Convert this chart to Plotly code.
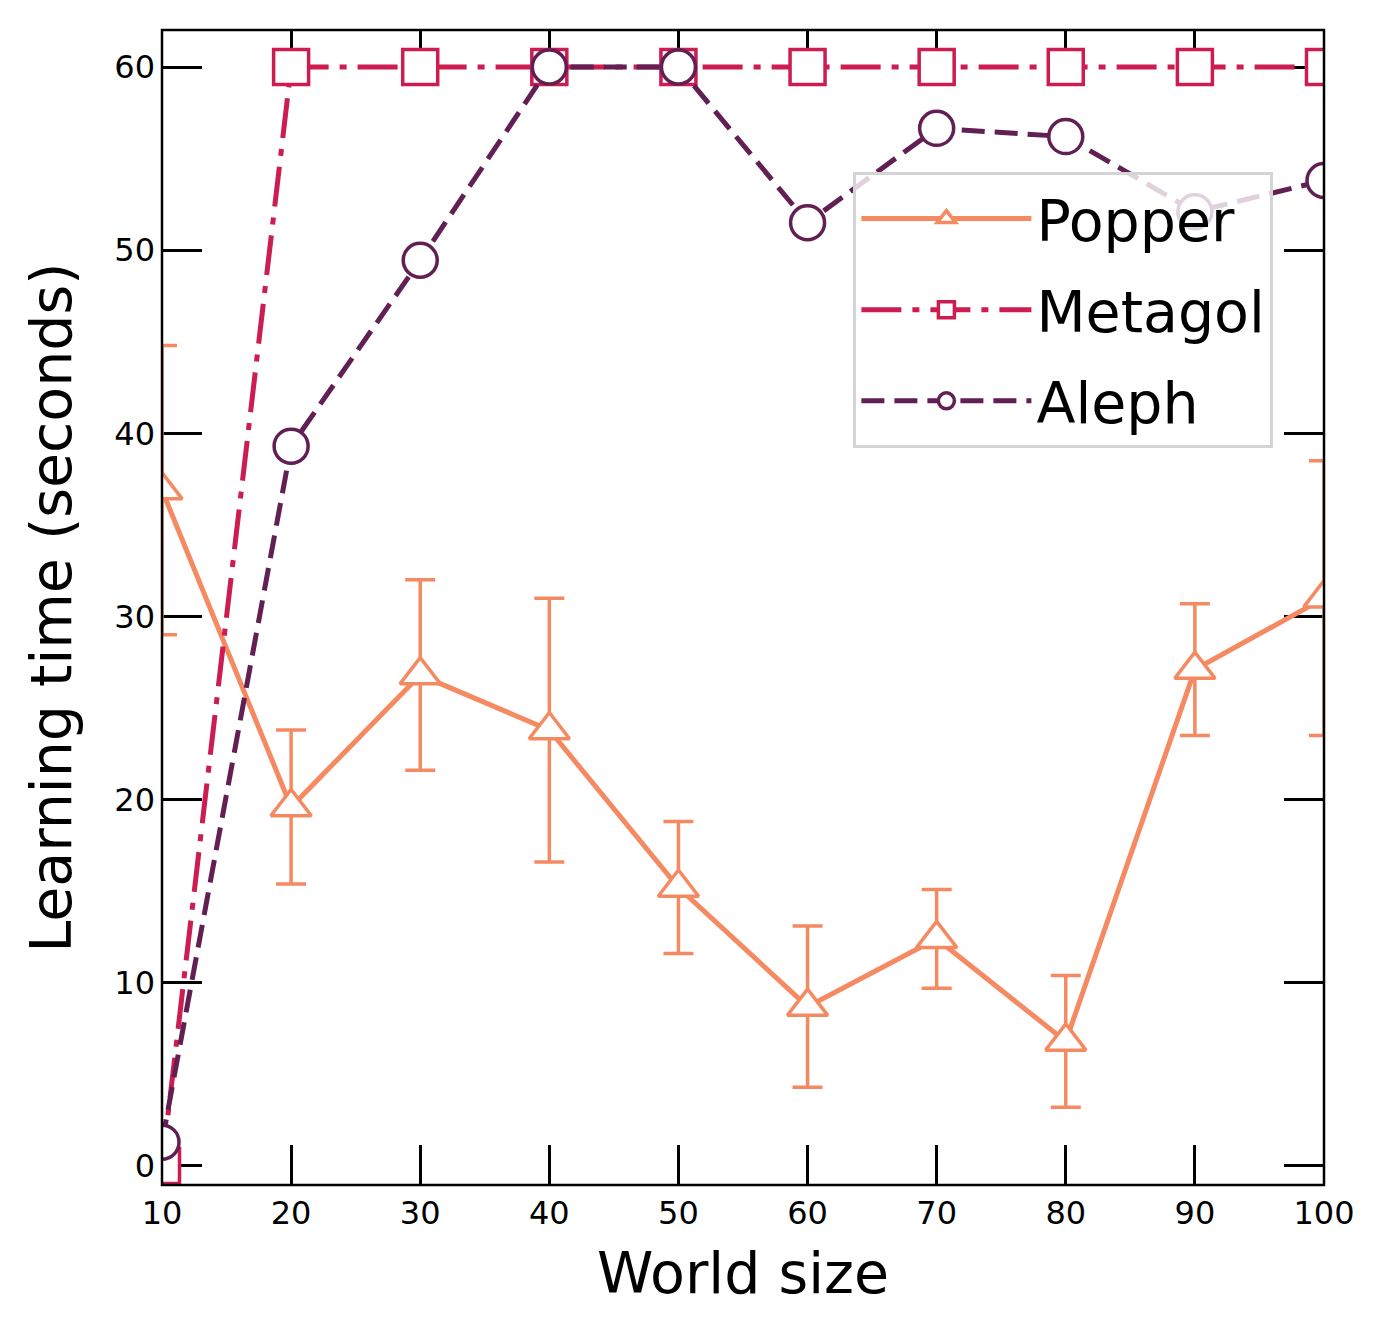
import plotly.graph_objects as go

# world sizes on the x axis
world_size = [10, 20, 30, 40, 50, 60, 70, 80, 90, 100]

# learning times (seconds), with error bar half-heights
popper_time = [36.9, 19.6, 26.8, 23.8, 15.2, 8.7, 12.4, 6.8, 27.1, 31.0]
popper_err = [7.9, 4.2, 5.2, 7.2, 3.6, 4.4, 2.7, 3.6, 3.6, 7.5]
metagol_time = [0.0, 60, 60, 60, 60, 60, 60, 60, 60, 60]
metagol_err = [0, 0, 0, 0, 0, 0, 0, 0, 0, 0]
aleph_time = [1.3, 39.3, 49.45, 60, 60, 51.5, 56.65, 56.2, 52.1, 53.8]
aleph_err = [0, 0, 0, 0, 0, 0, 0, 0, 0, 0]

x_ticks = [10, 20, 30, 40, 50, 60, 70, 80, 90, 100]
y_ticks = [0, 10, 20, 30, 40, 50, 60]

POPPER = "#f58a62"
METAGOL = "#cc1c50"
ALEPH = "#611f53"

fig = go.Figure()


def add_series(name, y, err, color, dash, symbol, size):
    fig.add_trace(go.Scatter(
        x=world_size, y=y, name=name, legendgroup=name, mode="lines+markers",
        line=dict(color=color, width=5, dash=dash),
        marker=dict(symbol=symbol, size=size, color="white",
                    line=dict(color=color, width=3.5)),
        error_y=dict(type="data", array=err, visible=True,
                     color=color, thickness=3.5, width=15),
    ))


add_series("Popper", popper_time, popper_err, POPPER, "solid", "triangle-up", 35)
add_series("Metagol", metagol_time, metagol_err, METAGOL, "40px,11px,7px,11px", "square", 35)
add_series("Aleph", aleph_time, aleph_err, ALEPH, "23px,10px", "circle", 34)

axis_common = dict(
    showline=False, mirror="ticks", layer="below traces",
    ticks="inside", ticklen=40, tickwidth=2.5, tickcolor="black",
    showgrid=False, zeroline=False,
    tickfont=dict(family="DejaVu Sans", size=32, color="black"),
)

fig.update_xaxes(
    range=[10, 100], tickvals=x_ticks, ticklabelstandoff=6,
    title=dict(text="World size", font=dict(family="DejaVu Sans", size=57, color="black"), standoff=22),
    **axis_common,
)
fig.update_yaxes(
    range=[-1.04, 62.02], tickvals=y_ticks, ticklabelstandoff=6,
    title=dict(text="Learning time (seconds)", font=dict(family="DejaVu Sans", size=57, color="black"), standoff=24),
    **axis_common,
)

# axes frame drawn above the markers, like the clipped spines
fig.add_shape(type="rect", xref="paper", yref="paper", x0=0, x1=1, y0=0, y1=1,
              line=dict(color="black", width=2.5), layer="above")

fig.update_layout(
    width=1385, height=1336,
    margin=dict(l=154, r=69, t=22, b=159),
    paper_bgcolor="white", plot_bgcolor="white",
    showlegend=True,
    legend=dict(
        x=0.595, y=0.877, xanchor="left", yanchor="top",
        bgcolor="rgba(255,255,255,0.8)", bordercolor="#d4d4d4", borderwidth=3,
        font=dict(family="DejaVu Sans", size=57, color="black"),
        itemsizing="trace", itemwidth=170, tracegroupgap=14,
    ),
)

fig.write_html("out.html")
